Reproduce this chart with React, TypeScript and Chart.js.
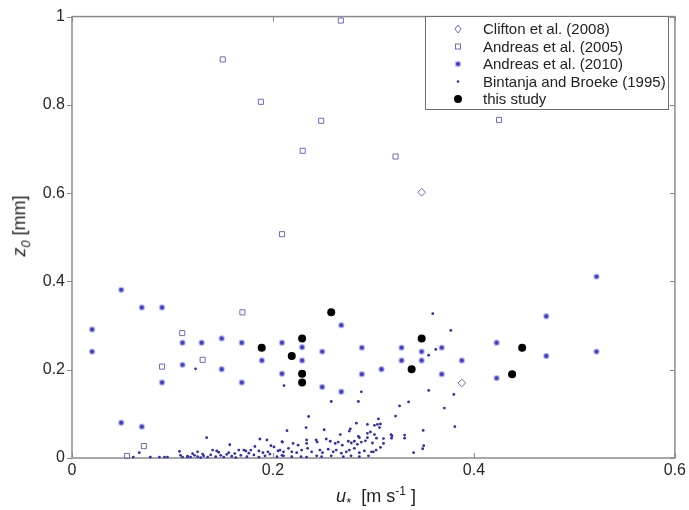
import React, { useEffect, useRef } from "react";
import { Chart, registerables } from "chart.js";
Chart.register(...registerables);

const FONT = "'Liberation Sans', Arial, Helvetica, sans-serif";

const xTicks = [0, 0.2, 0.4, 0.6];
const yTicks = [0, 0.2, 0.4, 0.6, 0.8, 1];

const legendLabels = [
  "Clifton et al. (2008)",
  "Andreas et al. (2005)",
  "Andreas et al. (2010)",
  "Bintanja and Broeke (1995)",
  "this study",
];

const cliftonU = [0.348, 0.388];
const cliftonZ = [0.602, 0.17];

const andreas05U = [0.15, 0.188, 0.2675, 0.248, 0.2296, 0.322, 0.209, 0.425, 0.1696, 0.1097, 0.13, 0.0896, 0.0715, 0.0547];
const andreas05Z = [0.903, 0.807, 0.991, 0.764, 0.696, 0.683, 0.507, 0.766, 0.33, 0.283, 0.2225, 0.207, 0.027, 0.0045];

const andreas10U = [
  0.049, 0.02, 0.02, 0.0695, 0.0896, 0.049, 0.0695, 0.11, 0.129, 0.149, 0.169, 0.11, 0.149, 0.0896, 0.169,
  0.189, 0.209, 0.209, 0.229, 0.229, 0.268, 0.249, 0.2885, 0.328, 0.348, 0.368, 0.328, 0.348, 0.388, 0.308,
  0.2885, 0.368, 0.249, 0.268, 0.4226, 0.4226, 0.522, 0.472, 0.472, 0.522,
];
const andreas10Z = [
  0.381, 0.291, 0.241, 0.341, 0.341, 0.08, 0.071, 0.261, 0.261, 0.271, 0.261, 0.211, 0.201, 0.171, 0.171,
  0.221, 0.261, 0.191, 0.251, 0.221, 0.301, 0.241, 0.25, 0.25, 0.241, 0.25, 0.221, 0.221, 0.221, 0.201,
  0.19, 0.19, 0.161, 0.15, 0.261, 0.181, 0.411, 0.321, 0.231, 0.241,
];

const bintanjaU = [
  0.061, 0.067, 0.078, 0.087, 0.092, 0.095, 0.107, 0.108, 0.11, 0.115,
  0.134, 0.157, 0.187, 0.194, 0.182, 0.198, 0.201, 0.209,
  0.14, 0.144, 0.146, 0.166, 0.171, 0.173, 0.178, 0.186, 0.19, 0.125,
  0.115, 0.118, 0.122, 0.125, 0.128, 0.131, 0.135, 0.138, 0.143, 0.148, 0.151, 0.154, 0.159, 0.163, 0.168,
  0.174, 0.181, 0.186, 0.192, 0.197, 0.204, 0.209,
  0.12, 0.13, 0.156, 0.162, 0.176, 0.195, 0.205,
  0.2355, 0.233, 0.214, 0.283, 0.294, 0.304, 0.276, 0.277, 0.251, 0.294, 0.297, 0.267, 0.285, 0.286, 0.301,
  0.2095, 0.22, 0.225, 0.2335, 0.2335, 0.243, 0.244, 0.253, 0.257, 0.262, 0.265, 0.269, 0.275, 0.278, 0.281,
  0.284, 0.288, 0.292, 0.294, 0.299,
  0.207, 0.2105, 0.2154, 0.2187, 0.2236, 0.2286, 0.2345, 0.2385, 0.2467, 0.2493, 0.255, 0.26, 0.263, 0.268,
  0.273, 0.276, 0.281, 0.286, 0.291, 0.298, 0.3027,
  0.2105, 0.2187, 0.228, 0.2335, 0.2435, 0.2484, 0.258, 0.27, 0.2777, 0.286, 0.295,
  0.258, 0.285, 0.288, 0.211, 0.123,
  0.359, 0.377, 0.362, 0.355, 0.355, 0.38, 0.3706, 0.381, 0.335, 0.326, 0.322, 0.305, 0.307, 0.301, 0.306,
  0.3175, 0.3185, 0.303, 0.31, 0.31, 0.307, 0.3, 0.331, 0.3495, 0.35, 0.349, 0.34, 0.318, 0.331,
];
const bintanjaZ = [
  0.002, 0.012, 0.002, 0.002, 0.002, 0.002, 0.015, 0.006, 0.002, 0.002,
  0.046, 0.03, 0.043, 0.041, 0.026, 0.028, 0.025, 0.037,
  0.018, 0.016, 0.013, 0.018, 0.018, 0.016, 0.018, 0.016, 0.012, 0.014,
  0.004, 0.002, 0.006, 0.003, 0.001, 0.005, 0.002, 0.007, 0.003, 0.006, 0.002, 0.008, 0.004, 0.001, 0.006,
  0.003, 0.007, 0.002, 0.005, 0.009, 0.003, 0.006,
  0.01, 0.009, 0.012, 0.01, 0.011, 0.014, 0.016,
  0.094, 0.069, 0.062, 0.079, 0.076, 0.076, 0.061, 0.066, 0.064, 0.056, 0.059, 0.053, 0.049, 0.046, 0.053,
  0.036, 0.033, 0.029, 0.041, 0.033, 0.041, 0.036, 0.043, 0.038, 0.033, 0.036, 0.029, 0.038, 0.034, 0.038,
  0.031, 0.036, 0.039, 0.046, 0.034,
  0.018, 0.014, 0.022, 0.014, 0.012, 0.018, 0.022, 0.014, 0.018, 0.012, 0.02, 0.014, 0.018, 0.011,
  0.014, 0.018, 0.022, 0.012, 0.016, 0.014, 0.018,
  0.005, 0.003, 0.003, 0.002, 0.005, 0.003, 0.005, 0.003, 0.005, 0.003, 0.005,
  0.128, 0.128, 0.15, 0.164, 0.202,
  0.327, 0.289, 0.246, 0.233, 0.153, 0.144, 0.113, 0.071, 0.127, 0.118, 0.095, 0.0885, 0.077, 0.074, 0.069,
  0.053, 0.05, 0.045, 0.044, 0.033, 0.024, 0.014, 0.052, 0.0625, 0.028, 0.021, 0.012, 0.045, 0.045,
];

const studyU = [0.1888, 0.2187, 0.229, 0.229, 0.229, 0.258, 0.348, 0.338, 0.448, 0.438];
const studyZ = [0.25, 0.231, 0.271, 0.191, 0.171, 0.33, 0.271, 0.201, 0.25, 0.19];

const pts = (u: number[], z: number[]) => u.map((v, i) => ({ x: v, y: z[i] }));

const SQUARE_COLOR = "#6a6ac8";
const STAR_COLOR = "#3b3bc6";
const DOT_COLOR = "#2e2eae";

function drawMarker(ctx: CanvasRenderingContext2D, kind: number, x: number, y: number) {
  ctx.save();
  if (kind === 0) {
    ctx.strokeStyle = SQUARE_COLOR;
    ctx.lineWidth = 1;
    ctx.beginPath();
    ctx.moveTo(x, y - 4);
    ctx.lineTo(x + 3, y);
    ctx.lineTo(x, y + 4);
    ctx.lineTo(x - 3, y);
    ctx.closePath();
    ctx.stroke();
  } else if (kind === 1) {
    ctx.strokeStyle = SQUARE_COLOR;
    ctx.lineWidth = 1;
    ctx.strokeRect(x - 2.5, y - 2.5, 5, 5);
  } else if (kind === 2) {
    ctx.fillStyle = "rgba(110,110,215,0.45)";
    ctx.beginPath();
    ctx.arc(x, y, 3.3, 0, Math.PI * 2);
    ctx.fill();
    ctx.fillStyle = STAR_COLOR;
    ctx.beginPath();
    ctx.arc(x, y, 2, 0, Math.PI * 2);
    ctx.fill();
  } else if (kind === 3) {
    ctx.fillStyle = DOT_COLOR;
    ctx.beginPath();
    ctx.arc(x, y, 1.3, 0, Math.PI * 2);
    ctx.fill();
  } else {
    ctx.fillStyle = "#000";
    ctx.beginPath();
    ctx.arc(x, y, 4, 0, Math.PI * 2);
    ctx.fill();
  }
  ctx.restore();
}

const framePlugin = {
  id: "frame",
  beforeDatasetsDraw(chart: any) {
    const { ctx, chartArea } = chart;
    const { left, right, top, bottom } = chartArea;
    const xs = chart.scales.x;
    const ys = chart.scales.y;
    ctx.save();
    ctx.strokeStyle = "#8a8a8a";
    ctx.lineWidth = 1.5;
    ctx.strokeRect(left, top, right - left, bottom - top);
    ctx.lineWidth = 1;
    ctx.beginPath();
    xTicks.forEach((v) => {
      const px = Math.round(xs.getPixelForValue(v)) + 0.5;
      ctx.moveTo(px, bottom);
      ctx.lineTo(px, bottom - 5);
      ctx.moveTo(px, top);
      ctx.lineTo(px, top + 5);
    });
    yTicks.forEach((v) => {
      const py = Math.round(ys.getPixelForValue(v)) + 0.5;
      ctx.moveTo(left - 5, py);
      ctx.lineTo(left, py);
      ctx.moveTo(right, py);
      ctx.lineTo(right - 5, py);
    });
    ctx.stroke();
    ctx.restore();
  },
  afterDatasetsDraw(chart: any) {
    const ctx: CanvasRenderingContext2D = chart.ctx;
    const bx = 425, by = 16, bw = 243, bh = 93;
    ctx.save();
    ctx.fillStyle = "#fff";
    ctx.fillRect(bx, by, bw, bh);
    ctx.strokeStyle = "#6e6e6e";
    ctx.lineWidth = 1;
    ctx.strokeRect(bx + 0.5, by + 0.5, bw, bh);
    ctx.font = `15px ${FONT}`;
    ctx.fillStyle = "#222";
    ctx.textBaseline = "middle";
    ctx.textAlign = "left";
    legendLabels.forEach((lab, i) => {
      const y = 29 + i * 17.5;
      drawMarker(ctx, i, 458, y);
      ctx.fillText(lab, 483, y + 1);
    });
    ctx.restore();
  },
};

export default function App() {
  const ref = useRef<HTMLCanvasElement>(null);
  useEffect(() => {
    const chart = new Chart(ref.current as HTMLCanvasElement, {
      type: "scatter",
      data: {
        datasets: [
          {
            label: legendLabels[3],
            data: pts(bintanjaU, bintanjaZ),
            pointStyle: "circle",
            pointRadius: 1.4,
            backgroundColor: DOT_COLOR,
            borderColor: DOT_COLOR,
            borderWidth: 0,
            clip: false,
          },
          {
            label: legendLabels[2],
            data: pts(andreas10U, andreas10Z),
            pointStyle: "circle",
            pointRadius: 2.2,
            backgroundColor: STAR_COLOR,
            borderColor: "rgba(110,110,215,0.45)",
            borderWidth: 2,
            clip: false,
          },
          {
            label: legendLabels[1],
            data: pts(andreas05U, andreas05Z),
            pointStyle: "rect",
            pointRadius: 3.6,
            backgroundColor: "rgba(255,255,255,0)",
            borderColor: SQUARE_COLOR,
            borderWidth: 1,
            clip: false,
          },
          {
            label: legendLabels[0],
            data: pts(cliftonU, cliftonZ),
            pointStyle: "rectRot",
            pointRadius: 3.8,
            backgroundColor: "rgba(255,255,255,0)",
            borderColor: SQUARE_COLOR,
            borderWidth: 1,
            clip: false,
          },
          {
            label: legendLabels[4],
            data: pts(studyU, studyZ),
            pointStyle: "circle",
            pointRadius: 4,
            backgroundColor: "#000",
            borderColor: "#000",
            borderWidth: 0,
            clip: false,
          },
        ],
      },
      options: {
        responsive: false,
        animation: false,
        devicePixelRatio: 1,
        layout: { padding: { left: 0, right: 10, top: 10, bottom: 0 } },
        plugins: { legend: { display: false }, tooltip: { enabled: false } },
        scales: {
          x: {
            type: "linear",
            min: 0,
            max: 0.6,
            afterFit: (s: any) => {
              s.height = 52;
            },
            afterBuildTicks: (s: any) => {
              s.ticks = xTicks.map((v) => ({ value: v }));
            },
            ticks: {
              font: { size: 16, family: FONT },
              color: "#262626",
              padding: 3,
              maxRotation: 0,
              callback: (v: any) => String(Math.round(Number(v) * 10) / 10),
            },
            grid: { display: false, drawTicks: false },
            border: { display: false },
          },
          y: {
            type: "linear",
            min: 0,
            max: 1,
            afterFit: (s: any) => {
              s.width = 72;
            },
            afterBuildTicks: (s: any) => {
              s.ticks = yTicks.map((v) => ({ value: v }));
            },
            ticks: {
              font: { size: 16, family: FONT },
              color: "#262626",
              padding: 7,
              callback: (v: any) => String(Math.round(Number(v) * 10) / 10),
            },
            grid: { display: false, drawTicks: false },
            border: { display: false },
          },
        },
      },
      plugins: [framePlugin],
    } as any);
    return () => chart.destroy();
  }, []);

  return (
    <div style={{ position: "fixed", left: 0, top: 0, width: 689, height: 510, background: "#fff", overflow: "hidden" }}>
      <canvas ref={ref} width={689} height={510} style={{ display: "block", width: 689, height: 510 }} />
      <div
        style={{
          position: "absolute",
          left: 21,
          top: 226,
          transform: "translate(-50%, -50%) rotate(-90deg)",
          whiteSpace: "nowrap",
          fontFamily: FONT,
          fontSize: 18,
          color: "#222",
          lineHeight: 1,
        }}
      >
        <i>z</i>
        <sub style={{ fontSize: 13 }}>
          <i>0</i>
        </sub>{" "}
        [mm]
      </div>
      <div
        style={{
          position: "absolute",
          left: 376,
          top: 497,
          transform: "translate(-50%, -50%)",
          whiteSpace: "nowrap",
          fontFamily: FONT,
          fontSize: 18,
          color: "#222",
          lineHeight: 1,
        }}
      >
        <i>u</i>
        <sub style={{ fontSize: 13 }}>*</sub>
        {"\u00a0 ["}m s<sup style={{ fontSize: 12 }}>-1</sup>
        {"\u00a0]"}
      </div>
    </div>
  );
}
